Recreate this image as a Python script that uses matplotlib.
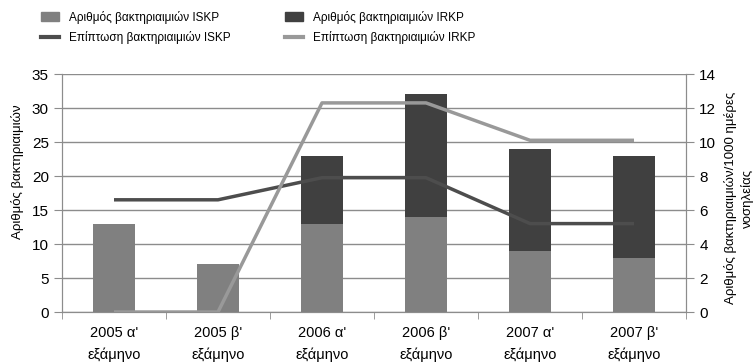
import numpy as np
import matplotlib.pyplot as plt
from matplotlib.patches import Patch
from matplotlib.lines import Line2D

periods = ["2005 α'\nεξάμηνο", "2005 β'\nεξάμηνο", "2006 α'\nεξάμηνο",
           "2006 β'\nεξάμηνο", "2007 α'\nεξάμηνο", "2007 β'\nεξάμηνο"]
iskp_count = [13, 7, 13, 14, 9, 8]
irkp_count = [0, 0, 10, 18, 15, 15]
iskp_rate = [6.6, 6.6, 7.9, 7.9, 5.2, 5.2]
irkp_rate = [0, 0, 12.3, 12.3, 10.1, 10.1]

c_iskp = "#808080"
c_irkp = "#404040"
c_line1 = "#4d4d4d"
c_line2 = "#999999"
grid_c = "#8c8c8c"

plt.rcParams['font.family'] = ['Liberation Sans', 'DejaVu Sans']

fig = plt.figure(figsize=(7.55, 3.62), dpi=100)
ax = fig.add_axes([62/755, 1-312/362, (686-62)/755, (312-74)/362])
ax2 = ax.twinx()

x = np.arange(len(periods))
ax.bar(x, iskp_count, width=0.4, color=c_iskp, zorder=2)
ax.bar(x, irkp_count, width=0.4, bottom=iskp_count, color=c_irkp, zorder=2)

ax2.plot(x, iskp_rate, color=c_line1, lw=2.5, solid_capstyle='butt')
ax2.plot(x, irkp_rate, color=c_line2, lw=2.5, solid_capstyle='butt')

ax.set_xlim(-0.5, 5.5)
ax.set_ylim(0, 35)
ax.set_yticks(range(0, 36, 5))
ax2.set_ylim(0, 14)
ax2.set_yticks(range(0, 15, 2))
ax.yaxis.grid(True, color=grid_c, lw=1, zorder=0)
ax.set_axisbelow(True)

ax.set_xticks(x)
ax.set_xticklabels(periods, fontsize=10.5, linespacing=1.65)
ax.set_xticks(np.arange(-0.5, 6, 1), minor=True)
ax.tick_params(axis='x', which='major', length=0, pad=10)
ax.tick_params(axis='x', which='minor', length=5, color=grid_c)
ax.tick_params(axis='y', labelsize=11, length=6, color=grid_c)
ax2.tick_params(axis='y', labelsize=11, length=6, color=grid_c)

for a in (ax, ax2):
    a.spines['top'].set_visible(False)
    for s in ('left', 'right', 'bottom'):
        a.spines[s].set_color(grid_c)

fig.text(18/755, 1-172/362, "Αριθμός βακτηριαιμιών", fontsize=9.5,
         rotation=90, ha='center', va='center')
fig.text(739/755, 1-198/362, "Αριθμός βακτηριαιμιών/1000 ημέρες\nνοσηλείας",
         fontsize=9.5, rotation=90, ha='center', va='center', multialignment='center',
         linespacing=1.45)

handles = [Patch(color=c_iskp), Line2D([], [], color=c_line1, lw=3),
           Patch(color=c_irkp), Line2D([], [], color=c_line2, lw=3)]
labels = ["Αριθμός βακτηριαιμιών ISKP", "Επίπτωση βακτηριαιμιών ISKP",
          "Αριθμός βακτηριαιμιών IRKP", "Επίπτωση βακτηριαιμιών IRKP"]
fig.legend(handles, labels, ncol=2, loc='upper left', bbox_to_anchor=(0.04, 1.0),
           frameon=False, prop={'size': 8.5},
           columnspacing=4.6, handlelength=1.5, handletextpad=0.9, labelspacing=0.6)

fig.savefig("out.png", dpi=100)
